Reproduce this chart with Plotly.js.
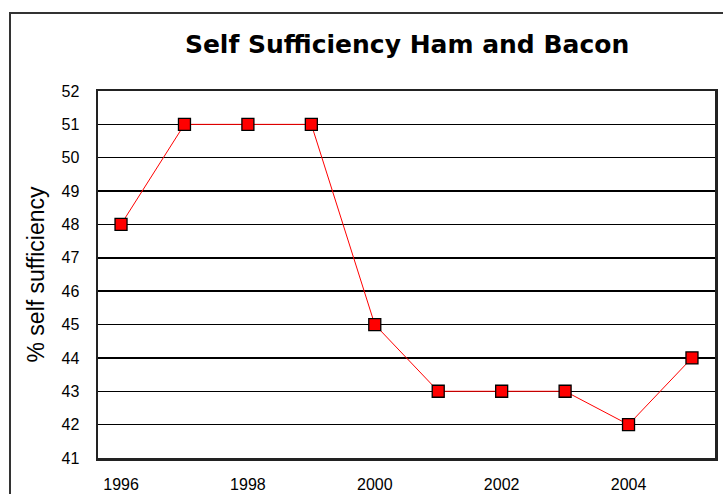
<!DOCTYPE html>
<html>
<head>
<meta charset="utf-8">
<script src="https://cdn.plot.ly/plotly-3.0.1.min.js"></script>
<style>
html,body{margin:0;padding:0;background:#fff;overflow:hidden;}
#wrap{position:relative;width:723px;height:494px;}
#chart{width:723px;height:494px;}
#frame{position:absolute;left:9px;top:12px;width:800px;height:600px;border:2px solid #333;pointer-events:none;box-sizing:border-box;}
</style>
</head>
<body>
<div id="wrap"><div id="chart"></div><div id="frame"></div></div>
<script>
var years = [1996, 1997, 1998, 1999, 2000, 2001, 2002, 2003, 2004, 2005];
var selfSufficiency = [48, 51, 51, 51, 45, 43, 43, 43, 42, 44];
var xTicks = [1996, 1998, 2000, 2002, 2004];
var yTicks = [41, 42, 43, 44, 45, 46, 47, 48, 49, 50, 51, 52];

var trace = {
  x: years,
  y: selfSufficiency,
  type: 'scatter',
  mode: 'lines+markers',
  line: {color: '#ff0000', width: 1},
  marker: {symbol: 'square', size: 12, color: '#ff0000', line: {color: '#000', width: 1.3}},
  cliponaxis: false,
  hoverinfo: 'x+y'
};

var layout = {
  width: 723, height: 494,
  margin: {l: 98, r: 8, t: 91, b: 36},
  paper_bgcolor: '#fff',
  plot_bgcolor: '#fff',
  showlegend: false,
  font: {family: 'Liberation Sans, Arial, sans-serif', color: '#000'},
  title: {
    text: '<b>Self Sufficiency Ham and Bacon</b>',
    font: {size: 25, family: 'DejaVu Sans, Verdana, sans-serif', color: '#000'},
    x: 0.563, xanchor: 'center', y: 0.91, yanchor: 'middle'
  },
  xaxis: {
    range: [1995.637, 2005.363],
    tickvals: xTicks,
    ticktext: xTicks.map(String),
    ticks: '', showgrid: false, zeroline: false,
    showline: true, linecolor: '#222', linewidth: 2.5, mirror: true,
    tickfont: {size: 16, color: '#000'},
    ticklabelstandoff: 10
  },
  yaxis: {
    range: [41, 52],
    tickvals: yTicks,
    ticks: '', showgrid: true, gridcolor: '#000', gridwidth: 1.5, zeroline: false,
    showline: true, linecolor: '#222', linewidth: 2.5, mirror: true,
    tickfont: {size: 16, color: '#000'},
    ticklabelstandoff: 13,
    title: {text: '% self sufficiency', font: {size: 23, color: '#000'}, standoff: 11}
  }
};

Plotly.newPlot('chart', [trace], layout, {displayModeBar: false, staticPlot: true});
</script>
</body>
</html>
